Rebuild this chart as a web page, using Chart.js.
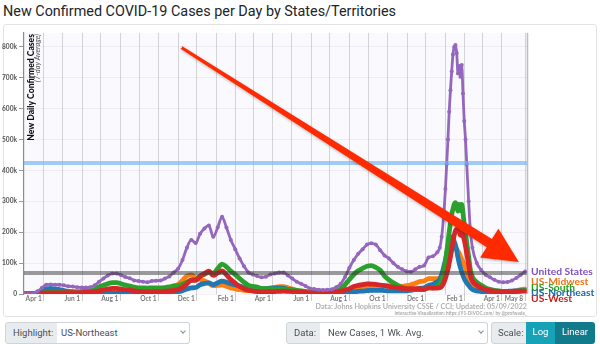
<!DOCTYPE html>
<html>
<head>
<meta charset="utf-8">
<script src="https://cdn.jsdelivr.net/npm/chart.js@4.4.1/dist/chart.umd.min.js"></script>
<style>
  html, body { margin: 0; padding: 0; background: #fff; }
  body { width: 600px; height: 344px; position: relative; overflow: hidden; font-family: Roboto, "Liberation Sans", sans-serif; }
  #title { position: absolute; left: 3px; top: 3px; font-size: 14.4px; line-height: 17px; color: #212529; white-space: nowrap; }
  #panel { position: absolute; left: 3px; top: 24px; width: 592px; height: 291px; border: 1px solid #e3e3e3; border-radius: 3px; background: #fff; }
  #wrap { position: absolute; left: 0; top: 0; width: 600px; height: 318px; }
  .src { position: absolute; right: 73px; white-space: nowrap; font-family: Lato, sans-serif; font-weight: 700; color: #b0b0b0; }
  #src1 { top: 302px; font-size: 7.2px; line-height: 9px; }
  #src2 { top: 311px; font-size: 4.6px; line-height: 5px; color: #a8a8a8; }
  .box { position: absolute; top: 322px; height: 22px; box-sizing: border-box; border: 1px solid #ced4da; font-size: 9.5px; line-height: 20px; color: #495057; white-space: nowrap; overflow: hidden; }
  .lab { background: #e9ecef; border-radius: 3px 0 0 3px; padding-left: 7px; }
  .sel { background: #fff; border-left: none; border-radius: 0 3px 3px 0; padding-left: 4px; }
  .chev { position: absolute; top: 6px; width: 3px; height: 3px; border-right: 1px solid #8a8f94; border-bottom: 1px solid #8a8f94; transform: rotate(45deg); }
  .btn { color: #fff; text-align: center; border: none; }
</style>
</head>
<body>
<div id="title">New Confirmed COVID-19 Cases per Day by States/Territories</div>
<div id="panel"></div>
<div id="wrap"><canvas id="chart" width="600" height="318"></canvas></div>
<div id="src1" class="src">Data: Johns Hopkins University CSSE / CCI; Updated: 05/09/2022</div>
<div id="src2" class="src">Interactive Visualization: https://91-DIVOC.com/ by @profwade_</div>

<div class="box lab" style="left:5px;width:53px;">Highlight:</div>
<div class="box sel" style="left:57px;width:133px;">US-Northeast<span class="chev" style="left:124px;"></span></div>
<div class="box lab" style="left:286px;width:35px;">Data:</div>
<div class="box sel" style="left:320px;width:168px;padding-left:8px;">New Cases, 1 Wk. Avg.<span class="chev" style="left:159px;"></span></div>
<div class="box lab" style="left:491px;width:36px;padding-left:6px;">Scale:</div>
<div class="box btn" style="left:526px;width:29px;background:#17a2b8;">Log</div>
<div class="box btn" style="left:555px;width:40px;background:#117a8b;border-radius:0 3px 3px 0;">Linear</div>

<script>
// Weekly 7-day averages of new confirmed cases (thousands), denser sampling through the Omicron wave.
const dates = [
  '2020-03-01','2020-03-08','2020-03-15','2020-03-22','2020-03-29',
  '2020-04-05','2020-04-12','2020-04-19','2020-04-26',
  '2020-05-03','2020-05-10','2020-05-17','2020-05-24','2020-05-31',
  '2020-06-07','2020-06-14','2020-06-21','2020-06-28',
  '2020-07-05','2020-07-12','2020-07-19','2020-07-26',
  '2020-08-02','2020-08-09','2020-08-16','2020-08-23','2020-08-30',
  '2020-09-06','2020-09-13','2020-09-20','2020-09-27',
  '2020-10-04','2020-10-11','2020-10-18','2020-10-25',
  '2020-11-01','2020-11-08','2020-11-15','2020-11-22','2020-11-29',
  '2020-12-06','2020-12-13','2020-12-20','2020-12-27',
  '2021-01-03','2021-01-10','2021-01-17','2021-01-24','2021-01-31',
  '2021-02-07','2021-02-14','2021-02-21','2021-02-28',
  '2021-03-07','2021-03-14','2021-03-21','2021-03-28',
  '2021-04-04','2021-04-11','2021-04-18','2021-04-25',
  '2021-05-02','2021-05-09','2021-05-16','2021-05-23','2021-05-30',
  '2021-06-06','2021-06-13','2021-06-20','2021-06-27',
  '2021-07-04','2021-07-11','2021-07-18','2021-07-25',
  '2021-08-01','2021-08-08','2021-08-15','2021-08-22','2021-08-29',
  '2021-09-05','2021-09-12','2021-09-19','2021-09-26',
  '2021-10-03','2021-10-10','2021-10-17','2021-10-24','2021-10-31',
  '2021-11-07','2021-11-14','2021-11-21','2021-11-28',
  '2021-12-05','2021-12-12','2021-12-19','2021-12-23','2021-12-26','2021-12-29',
  '2022-01-01','2022-01-03','2022-01-05','2022-01-07','2022-01-09','2022-01-11','2022-01-13','2022-01-15',
  '2022-01-17','2022-01-19','2022-01-21','2022-01-23','2022-01-25','2022-01-27','2022-01-29','2022-01-31',
  '2022-02-02','2022-02-04','2022-02-07','2022-02-10','2022-02-13','2022-02-20','2022-02-27',
  '2022-03-06','2022-03-13','2022-03-20','2022-03-27',
  '2022-04-03','2022-04-10','2022-04-17','2022-04-24',
  '2022-05-01','2022-05-08'
];

const unitedStates = [
  0, 0.4, 2, 9, 20,
  30, 31, 30, 30,
  28, 25, 24, 22, 21,
  21, 22, 28, 40,
  50, 60, 66, 66,
  61, 55, 51, 44, 42,
  40, 38, 42, 43,
  44, 50, 57, 70,
  82, 110, 150, 175, 165,
  195, 212, 222, 185,
  215, 250, 215, 175, 145,
  115, 90, 70, 63,
  58, 54, 56, 63,
  66, 70, 70, 60,
  50, 40, 33, 26, 18,
  16, 14, 13, 14,
  15, 22, 33, 55,
  85, 110, 130, 145, 160,
  164, 160, 142, 125,
  115, 100, 88, 80, 74,
  72, 80, 88, 92,
  118, 122, 135, 150, 185, 250,
  340, 420, 500, 590, 660, 720, 775, 800,
  806, 780, 714, 738, 703, 741, 649, 560,
  500, 420, 300, 200, 150, 100, 78,
  62, 54, 46, 40,
  38, 39, 44, 52,
  62, 73
];

const usMidwest = [
  0, 0.02, 0.2, 1.2, 2.5,
  4, 4.5, 5, 6,
  7, 6.5, 6, 6, 5,
  4.5, 3.7, 3.6, 4.2,
  5, 6, 7, 8,
  8.5, 9, 8.5, 9, 10,
  10.5, 10, 12, 13,
  14, 17, 20, 25,
  31, 44, 58, 62, 52,
  48, 42, 35, 27,
  28, 30, 25, 20, 17,
  14, 12, 11, 11,
  11, 12, 14, 18,
  21, 24, 24, 20,
  16, 12, 9, 7, 4.5,
  3.5, 2.5, 2, 2,
  2, 3, 4.5, 7,
  10, 14, 17, 21, 24,
  25, 27, 28, 27,
  26, 25, 25, 25, 27,
  30, 35, 40, 42,
  50, 50, 50, 52, 55, 65,
  80, 92, 108, 120, 132, 140, 148, 150,
  150, 145, 138, 132, 122, 112, 105, 95,
  85, 72, 55, 38, 28, 18, 12,
  9, 7, 6, 5.5,
  5.5, 6, 8, 11,
  14, 16
];

const usSouth = [
  0, 0.05, 0.4, 1.5, 3.5,
  5, 5, 5, 5.5,
  5.5, 6, 6.5, 7, 8,
  9, 11, 15, 23,
  28, 33, 37, 37,
  33, 29, 26, 22, 20,
  20, 19, 20, 20,
  20, 21, 23, 26,
  27, 32, 38, 45, 47,
  58, 64, 70, 67,
  82, 97, 88, 74, 63,
  50, 38, 28, 25,
  22, 18, 17, 17,
  16, 16, 16, 15,
  14, 12, 10, 8.5, 6,
  5, 4.5, 4.5, 5,
  6, 10, 17, 30,
  47, 63, 75, 83, 90,
  92, 86, 77, 58,
  46, 36, 28, 21, 17,
  15, 14, 14, 15,
  20, 20, 26, 32, 45, 70,
  105, 135, 165, 200, 230, 258, 275, 290,
  296, 285, 268, 290, 270, 290, 262, 225,
  195, 165, 120, 75, 55, 38, 28,
  20, 15, 12, 10,
  8, 7, 7, 8,
  10, 12
];

const usNortheast = [
  0, 0.1, 0.9, 5, 11,
  17, 18, 16, 14,
  11, 8.5, 7, 5, 3.5,
  2.5, 2, 1.7, 1.6,
  1.6, 1.7, 1.8, 1.9,
  1.9, 2, 2, 2, 2,
  2.1, 2, 2.7, 3,
  3.3, 4, 4.7, 6,
  7.5, 11, 16, 20, 21,
  30, 34, 36, 30,
  36, 42, 38, 33, 29,
  26, 21, 18, 17,
  16, 16, 17, 19,
  20, 20, 19, 15,
  11, 8, 5, 3.5, 2,
  1.5, 1, 0.8, 0.8,
  0.8, 1.3, 2, 3.5,
  5, 7, 8.5, 9.5, 11,
  12, 12, 12, 11,
  10, 10, 10, 10, 10,
  12, 15, 18, 20,
  28, 32, 40, 48, 62, 85,
  110, 130, 155, 172, 182, 185, 180, 170,
  158, 140, 118, 100, 85, 72, 60, 50,
  42, 36, 28, 20, 15, 10, 8,
  7, 6.5, 6.5, 7,
  7.5, 8.5, 9.5, 10,
  10.5, 11
];

const usWest = [
  0, 0.2, 0.5, 1.5, 2.5,
  3.5, 3.5, 3.5, 3.8,
  4, 4, 4.2, 4.5, 4.5,
  5, 6, 7.5, 10,
  13, 16, 18, 18,
  16, 14, 13, 10, 8.5,
  7.5, 6.5, 7, 7.5,
  8, 9, 10, 12,
  14.5, 21, 33, 45, 44,
  57, 66, 74, 60,
  68, 75, 62, 47, 35,
  24, 17, 12, 9.5,
  8, 7, 7, 7.5,
  8, 8.5, 9, 8.5,
  8, 7, 6.5, 5.5, 4.5,
  4.5, 4, 4, 4.5,
  5, 7, 9.5, 13,
  17, 24, 28, 30, 33,
  32, 31, 29, 27,
  25, 22, 20, 18, 17,
  17, 17, 17, 15,
  20, 19, 19, 20, 24, 35,
  50, 65, 80, 100, 120, 145, 170, 190,
  205, 210, 205, 200, 190, 205, 190, 175,
  155, 130, 95, 58, 42, 28, 20,
  14, 11, 9, 8,
  7, 7, 7.5, 8.5,
  9, 9
];

// Horizontal guide levels (thousands)
const guideLevels = [424, 68];

// Labelled x ticks
const tickDates = ['2020-04-01','2020-06-01','2020-08-01','2020-10-01','2020-12-01',
                   '2021-02-01','2021-04-01','2021-06-01','2021-08-01','2021-10-01','2021-12-01',
                   '2022-02-01','2022-04-01','2022-05-08'];
const tickLabels = ['Apr 1','Jun 1','Aug 1','Oct 1','Dec 1',
                    'Feb 1','Apr 1','Jun 1','Aug 1','Oct 1','Dec 1',
                    'Feb 1','Apr 1','May 8'];

// Callout arrow, anchored in data space
const arrowFrom = { date: '2020-11-05', value: 800 };
const arrowTo   = { date: '2022-04-28', value: 104 };

const DAY0 = Date.UTC(2020, 2, 1);
const toDay = s => { const [y, m, d] = s.split('-').map(Number); return (Date.UTC(y, m - 1, d) - DAY0) / 864e5; };
const xMin = -0.6, xMax = 801;

// Month-start grid lines plus the final date
const gridDays = [];
for (let k = 0; k < 25; k++) gridDays.push((Date.UTC(2020, 3 + k, 1) - DAY0) / 864e5);
gridDays.push(toDay('2022-05-08'));
const labelByDay = new Map(tickDates.map((d, i) => [toDay(d), tickLabels[i]]));

const series = [
  { label: 'United States', values: unitedStates, color: '#9467bd', width: 2.8, radius: 2 },
  { label: 'US-West',       values: usWest,       color: '#d62728', width: 4.8, radius: 0 },
  { label: 'US-South',      values: usSouth,      color: '#2ca02c', width: 4.8, radius: 0 },
  { label: 'US-Northeast',  values: usNortheast,  color: '#1f77b4', width: 4.8, radius: 0 },
  { label: 'US-Midwest',    values: usMidwest,    color: '#ff7f0e', width: 4.8, radius: 0 }
];
const labelColors = {
  'United States': '#8052bd', 'US-Midwest': '#f07414', 'US-South': '#23a023',
  'US-Northeast': '#1d64a8', 'US-West': '#c81e1e'
};

const guideStyles = [
  { color: 'rgba(110,178,242,0.65)', width: 4 },
  { color: 'rgba(55,55,55,0.5)', width: 4 }
];

const datasets = [];
guideLevels.forEach((lv, i) => datasets.push({
  label: 'guide' + i,
  data: [{ x: xMin, y: lv }, { x: xMax, y: lv }],
  borderColor: guideStyles[i].color, borderWidth: guideStyles[i].width,
  pointRadius: 0, tension: 0
}));
series.forEach(s => datasets.push({
  label: s.label,
  data: dates.map((d, i) => ({ x: toDay(d), y: s.values[i] })),
  borderColor: s.color, backgroundColor: s.color, borderWidth: s.width,
  pointRadius: s.radius, pointBorderWidth: 0, pointBackgroundColor: s.color,
  cubicInterpolationMode: 'monotone', borderJoinStyle: 'round', borderCapStyle: 'round'
}));

function spreadLabels(items, gap) {
  items.sort((a, b) => a.y - b.y);
  let groups = items.map(it => ({ members: [it], y: it.y }));
  let changed = true;
  while (changed) {
    changed = false;
    for (let i = 0; i < groups.length - 1; i++) {
      const a = groups[i], b = groups[i + 1];
      const aBottom = a.y + (a.members.length - 1) * gap / 2;
      const bTop = b.y - (b.members.length - 1) * gap / 2;
      if (bTop - aBottom < gap) {
        const members = a.members.concat(b.members);
        const mean = members.reduce((s, m) => s + m.y, 0) / members.length;
        groups.splice(i, 2, { members, y: mean });
        changed = true;
        break;
      }
    }
  }
  groups.forEach(g => g.members.forEach((m, k) => { m.ly = g.y + (k - (g.members.length - 1) / 2) * gap; }));
  return items;
}

const decorations = {
  id: 'decorations',
  beforeDraw(chart) {
    const { ctx, chartArea: a } = chart;
    ctx.save();
    ctx.fillStyle = '#faf9fd';
    ctx.fillRect(a.left, a.top, a.right - a.left, a.bottom - a.top);
    ctx.restore();
  },
  afterDraw(chart) {
    const { ctx, chartArea: a, scales } = chart;
    ctx.save();
    // right frame line
    ctx.strokeStyle = '#bdbdbd';
    ctx.lineWidth = 1.5;
    ctx.beginPath(); ctx.moveTo(a.right + 0.5, a.top); ctx.lineTo(a.right + 0.5, a.bottom); ctx.stroke();

    // vertical axis title
    ctx.translate(a.left + 9.5, a.top + 1);
    ctx.rotate(-Math.PI / 2);
    ctx.textAlign = 'right';
    ctx.textBaseline = 'alphabetic';
    ctx.fillStyle = '#111';
    ctx.font = '900 8.6px Lato';
    ctx.fillText('New Daily Confirmed Cases', 0, 0);
    ctx.fillStyle = '#555';
    ctx.font = 'italic 7.4px Lato';
    ctx.fillText('(7-day Average)', 0, 6.5);
    ctx.restore();

    // end-of-line labels
    const items = series.map(s => ({ label: s.label, y: scales.y.getPixelForValue(s.values[s.values.length - 1]) }));
    spreadLabels(items, 5.6);
    ctx.save();
    ctx.font = 'bold 10.3px Lato';
    ctx.textBaseline = 'middle';
    ctx.textAlign = 'left';
    items.forEach(it => { ctx.fillStyle = labelColors[it.label]; ctx.fillText(it.label, a.right + 4, it.ly); });
    ctx.restore();

    // callout arrow
    const x0 = scales.x.getPixelForValue(toDay(arrowFrom.date)), y0 = scales.y.getPixelForValue(arrowFrom.value);
    const x1 = scales.x.getPixelForValue(toDay(arrowTo.date)), y1 = scales.y.getPixelForValue(arrowTo.value);
    const dx = x1 - x0, dy = y1 - y0, L = Math.hypot(dx, dy);
    const ux = dx / L, uy = dy / L, nx = -uy, ny = ux;
    const headLen = 35, headHalf = 17, w0 = 1.5, w1 = 4.8;
    const bx = x1 - ux * headLen, by = y1 - uy * headLen;
    ctx.save();
    ctx.shadowColor = 'rgba(0,0,0,0.28)';
    ctx.shadowBlur = 3;
    ctx.shadowOffsetY = 1;
    ctx.fillStyle = '#ff2a00';
    ctx.beginPath();
    ctx.moveTo(x0 + nx * w0, y0 + ny * w0);
    ctx.lineTo(bx + nx * w1, by + ny * w1);
    ctx.lineTo(bx + nx * headHalf, by + ny * headHalf);
    ctx.lineTo(x1, y1);
    ctx.lineTo(bx - nx * headHalf, by - ny * headHalf);
    ctx.lineTo(bx - nx * w1, by - ny * w1);
    ctx.lineTo(x0 - nx * w0, y0 - ny * w0);
    ctx.arc(x0, y0, w0, Math.atan2(-ny, -nx), Math.atan2(ny, nx), false);
    ctx.closePath();
    ctx.fill();
    ctx.restore();
  }
};

Chart.defaults.font.family = 'Lato';

new Chart(document.getElementById('chart'), {
  type: 'line',
  data: { datasets },
  options: {
    responsive: false,
    devicePixelRatio: 1,
    animation: false,
    events: [],
    layout: { padding: { left: 0, right: 73, top: 33, bottom: 10 } },
    plugins: { legend: { display: false }, tooltip: { enabled: false } },
    scales: {
      x: {
        type: 'linear', min: xMin, max: xMax,
        afterBuildTicks: s => { s.ticks = gridDays.map(v => ({ value: v })); },
        afterFit: s => { s.height = 14; },
        border: { display: false },
        grid: {
          color: 'rgba(0,0,0,0.15)', lineWidth: 1, drawTicks: true, tickLength: 7,
          tickColor: ctx => (ctx.tick && labelByDay.has(ctx.tick.value)) ? 'rgba(0,0,0,0.2)' : 'rgba(0,0,0,0)'
        },
        ticks: {
          autoSkip: false, maxRotation: 0, minRotation: 0, align: 'end', padding: -6, labelOffset: -2,
          color: '#7a7a7a', font: { size: 6.6, weight: 'bold' },
          callback: v => labelByDay.get(v) || ''
        }
      },
      y: {
        min: 0, max: 845,
        afterFit: s => { s.width = 24; },
        border: { display: true, color: '#8c8c8c', width: 1.2 },
        grid: { color: 'rgba(60,40,120,0.06)', lineWidth: 1, drawTicks: true, tickLength: 5, tickColor: '#999' },
        ticks: {
          stepSize: 100, includeBounds: false, padding: 2,
          color: '#555', font: { size: 6.6, weight: 'bold' },
          callback: v => v === 0 ? '0' : v + 'k'
        }
      }
    }
  },
  plugins: [decorations]
});
</script>
</body>
</html>
